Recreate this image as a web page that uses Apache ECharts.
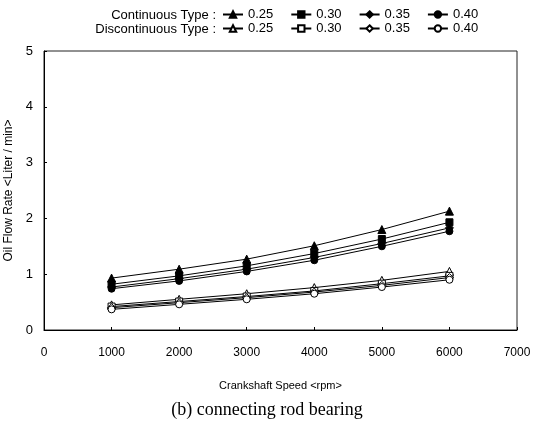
<!DOCTYPE html>
<html><head><meta charset="utf-8">
<script src="https://cdn.jsdelivr.net/npm/echarts@6/dist/echarts.min.js"></script>
<style>html,body{margin:0;padding:0;background:#fff}#c{width:534px;height:433px}</style>
</head><body><div id="c"></div>
<script>
const speeds = [1000, 2000, 3000, 4000, 5000, 6000];
const ratios = ['0.25', '0.30', '0.35', '0.40'];
const cont025 = [0.93, 1.09, 1.27, 1.51, 1.80, 2.13];
const cont030 = [0.82, 0.97, 1.15, 1.37, 1.63, 1.93];
const cont035 = [0.77, 0.92, 1.09, 1.30, 1.55, 1.83];
const cont040 = [0.74, 0.88, 1.05, 1.25, 1.50, 1.77];
const disc025 = [0.45, 0.55, 0.65, 0.76, 0.89, 1.05];
const disc030 = [0.42, 0.51, 0.60, 0.70, 0.83, 0.97];
const disc035 = [0.40, 0.49, 0.58, 0.68, 0.80, 0.94];
const disc040 = [0.37, 0.46, 0.55, 0.65, 0.77, 0.90];
const xTicks = [0, 1000, 2000, 3000, 4000, 5000, 6000, 7000];
const yTicks = [0, 1, 2, 3, 4, 5];

const contData = [cont025, cont030, cont035, cont040];
const discData = [disc025, disc030, disc035, disc040];
const syms = ['triangle', 'rect', 'diamond', 'circle'];
const symSize = [8, 7, 8, 7];

const series = [];
ratios.forEach((r, i) => {
  series.push({
    name: 'C ' + r, type: 'line',
    data: speeds.map((s, j) => [s, contData[i][j]]),
    symbol: syms[i], symbolSize: symSize[i],
    lineStyle: {color: '#000', width: 1},
    itemStyle: {color: '#000', borderColor: '#000', borderWidth: 1},
    z: 3
  });
});
ratios.forEach((r, i) => {
  series.push({
    name: 'D ' + r, type: 'line',
    data: speeds.map((s, j) => [s, discData[i][j]]),
    symbol: syms[i], symbolSize: symSize[i],
    lineStyle: {color: '#000', width: 1},
    itemStyle: {color: '#fff', borderColor: '#000', borderWidth: 1},
    z: 4
  });
});

const font = 'Liberation Sans';
const legendCommon = {
  orient: 'horizontal', itemWidth: 20, itemHeight: 8, itemGap: 17, padding: 0,
  textStyle: {fontFamily: font, fontSize: 13, color: '#000'},
  formatter: n => n.split(' ')[1],
  selectedMode: false
};

const chart = echarts.init(document.getElementById('c'), null, {renderer: 'canvas'});
chart.setOption({
  animation: false,
  backgroundColor: '#fff',
  graphic: [
    {type: 'text', right: 318, top: 9, style: {text: 'Continuous Type :', fontFamily: font, fontSize: 13, fill: '#000'}},
    {type: 'text', right: 318, top: 23, style: {text: 'Discontinuous Type :', fontFamily: font, fontSize: 13, fill: '#000'}},
    {type: 'text', left: 'center', top: 401, style: {text: '(b) connecting rod bearing', fontFamily: 'Liberation Serif', fontSize: 18, fill: '#000'}}
  ],
  legend: [
    Object.assign({}, legendCommon, {data: ratios.map(r => 'C ' + r), left: 222, top: 8}),
    Object.assign({}, legendCommon, {data: ratios.map(r => 'D ' + r), left: 222, top: 22})
  ],
  grid: {left: 44, right: 17, top: 51, bottom: 103, show: true, borderColor: '#222', borderWidth: 1, outerBoundsMode: 'none', containLabel: false},
  xAxis: {
    type: 'value', min: 0, max: 7000, interval: 1000,
    name: 'Crankshaft Speed <rpm>', nameLocation: 'middle', nameGap: 50,
    nameTextStyle: {fontFamily: font, fontSize: 11, color: '#000'},
    axisLine: {lineStyle: {color: '#000'}},
    axisTick: {inside: true, length: 3, lineStyle: {color: '#000'}},
    axisLabel: {fontFamily: font, fontSize: 12, color: '#000', margin: 17,
      formatter: v => xTicks.includes(v) ? String(v) : ''},
    splitLine: {show: false}
  },
  yAxis: {
    type: 'value', min: 0, max: 5, interval: 1,
    name: 'Oil Flow Rate <Liter / min>', nameLocation: 'middle', nameGap: 27,
    nameTextStyle: {fontFamily: font, fontSize: 12, color: '#000'},
    axisLine: {show: true, lineStyle: {color: '#000'}},
    axisTick: {show: true, inside: true, length: 3, lineStyle: {color: '#000'}},
    axisLabel: {fontFamily: font, fontSize: 13, color: '#000', margin: 11,
      formatter: v => yTicks.includes(v) ? String(v) : ''},
    splitLine: {show: false}
  },
  series: series
});
</script></body></html>
